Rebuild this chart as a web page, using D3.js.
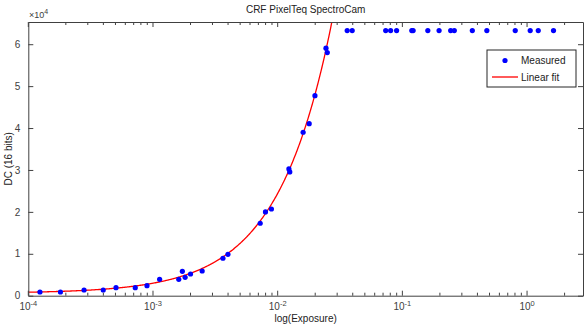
<!DOCTYPE html>
<html><head><meta charset="utf-8">
<script src="https://cdn.jsdelivr.net/npm/d3@7"></script>
<style>body{margin:0;background:#fff}svg{display:block}text{font-family:"Liberation Sans",Arial,sans-serif}</style>
</head><body><svg id="c" width="584" height="324"></svg>
<script>
// Measured exposures (s) and digital counts
const exposure = [1.24e-4,1.81e-4,2.80e-4,3.99e-4,5.05e-4,7.21e-4,8.95e-4,1.13e-3,1.61e-3,1.72e-3,1.81e-3,2.00e-3,2.48e-3,3.64e-3,3.99e-3,7.24e-3,7.98e-3,8.91e-3,1.23e-2,1.25e-2,1.60e-2,1.79e-2,1.99e-2,2.44e-2,2.50e-2,
  3.61e-2,3.96e-2,7.35e-2,8.05e-2,8.99e-2,0.119,0.122,0.160,0.197,0.244,0.261,0.364,0.476,0.804,1.06,1.23,1.63];
const dc = [880,880,1360,1360,1910,1910,2390,3910,3910,5820,4390,5180,5890,8930,9880,17280,19980,20690,30240,29520,39000,41050,47730,59050,58000,
  63250,63250,63250,63250,63250,63250,63250,63250,63250,63250,63250,63250,63250,63250,63250,63250,63250];
// Linear fit DC = slope*exposure + intercept
const fitCoef = [2.38e6, 600];
const xDomain = [1e-4, 2.81];
const yDomain = [0, 65300];
const yTicks = [0,10000,20000,30000,40000,50000,60000];
const xMajor = [-4,-3,-2,-1,0];
const titleText = "CRF PixelTeq SpectroCam";
const xLabel = "log(Exposure)";
const yLabel = "DC (16 bits)";
const legendLabels = ["Measured","Linear fit"];

const svg = d3.select("#c");
const L=28.3, R=583, T=22, B=295.7;
const x = d3.scaleLog().domain(xDomain).range([L,R]);
const y = d3.scaleLinear().domain(yDomain).range([B,T]);
const axisCol="#404040", textCol="#404040";

svg.append("defs").append("clipPath").attr("id","cp").append("rect")
  .attr("x",L).attr("y",T).attr("width",R-L).attr("height",B-T);

// fit line
const fitX=[];
for(let e=-4;e<=Math.log10(xDomain[1]);e+=0.005) fitX.push(Math.pow(10,e));
svg.append("path").attr("clip-path","url(#cp)")
  .datum(fitX).attr("fill","none").attr("stroke","#ff0000").attr("stroke-width",1.3)
  .attr("d",d3.line().x(d=>x(d)).y(d=>y(fitCoef[0]*d+fitCoef[1])));

// points
svg.append("g").selectAll("circle").data(exposure).join("circle")
  .attr("cx",d=>x(d)).attr("cy",(d,i)=>y(dc[i])).attr("r",2.6).attr("fill","#0000ff");

// axes (MATLAB-style, ticks inward, box)
const gB = svg.append("g").attr("transform",`translate(0,${B})`)
  .call(d3.axisBottom(x).tickValues([]).tickSizeOuter(0));
const gT = svg.append("g").attr("transform",`translate(0,${T})`)
  .call(d3.axisTop(x).tickValues([]).tickSizeOuter(0));
const gL = svg.append("g").attr("transform",`translate(${L},0)`)
  .call(d3.axisLeft(y).tickValues(yTicks).tickSize(-5).tickSizeOuter(0).tickPadding(8).tickFormat(d=>d/10000));
const gR = svg.append("g").attr("transform",`translate(${R},0)`)
  .call(d3.axisRight(y).tickValues(yTicks).tickSize(-5).tickSizeOuter(0).tickFormat(""));
[gB,gT,gL,gR].forEach(g=>{g.select(".domain").attr("stroke",axisCol).attr("stroke-width",1);
  g.selectAll(".tick line").attr("stroke",axisCol);
  g.selectAll("text").attr("fill",textCol).attr("font-size",10).attr("font-family","Liberation Sans, Arial, sans-serif");});

// log ticks
const minor=[];
for(let e=-4;e<=0;e++) for(let m=2;m<=9;m++){const v=m*Math.pow(10,e); if(v<=xDomain[1]) minor.push(v);}
const tk = svg.append("g").attr("stroke",axisCol).attr("stroke-width",1);
minor.forEach(v=>{
  tk.append("line").attr("x1",x(v)).attr("x2",x(v)).attr("y1",B).attr("y2",B-3);
  tk.append("line").attr("x1",x(v)).attr("x2",x(v)).attr("y1",T).attr("y2",T+3);
});
xMajor.forEach(e=>{
  const v=Math.pow(10,e);
  tk.append("line").attr("x1",x(v)).attr("x2",x(v)).attr("y1",B).attr("y2",B-5);
  tk.append("line").attr("x1",x(v)).attr("x2",x(v)).attr("y1",T).attr("y2",T+5);
  const t=svg.append("text").attr("x",x(v)).attr("y",B+14).attr("text-anchor","middle")
    .attr("fill",textCol).attr("font-size",10);
  t.append("tspan").text("10");
  t.append("tspan").attr("dy",-4).attr("font-size",7.5).text(String(e));
});

// exponent label
const ex = svg.append("text").attr("x",29).attr("y",18).attr("fill",textCol).attr("font-size",9);
ex.append("tspan").text("×10");
ex.append("tspan").attr("dy",-4).attr("font-size",7).text("4");

// title and labels
svg.append("text").attr("x",(L+R)/2).attr("y",13).attr("text-anchor","middle")
  .attr("fill","#222").attr("font-size",10).text(titleText);
svg.append("text").attr("x",(L+R)/2).attr("y",322).attr("text-anchor","middle")
  .attr("fill","#222").attr("font-size",10).text(xLabel);
svg.append("text").attr("transform",`translate(12,${(T+B)/2}) rotate(-90)`).attr("text-anchor","middle")
  .attr("fill","#222").attr("font-size",10).text(yLabel);

// legend
const lg = svg.append("g");
lg.append("rect").attr("x",487).attr("y",50).attr("width",89).attr("height",37)
  .attr("fill","#fff").attr("stroke","#262626").attr("stroke-width",1);
lg.append("circle").attr("cx",505).attr("cy",60.5).attr("r",2.6).attr("fill","#0000ff");
lg.append("line").attr("x1",492).attr("x2",518).attr("y1",77).attr("y2",77).attr("stroke","#ff0000").attr("stroke-width",1.3);
lg.append("text").attr("x",521).attr("y",64).attr("fill","#222").attr("font-size",10).text(legendLabels[0]);
lg.append("text").attr("x",521).attr("y",81).attr("fill","#222").attr("font-size",10).text(legendLabels[1]);
</script></body></html>
